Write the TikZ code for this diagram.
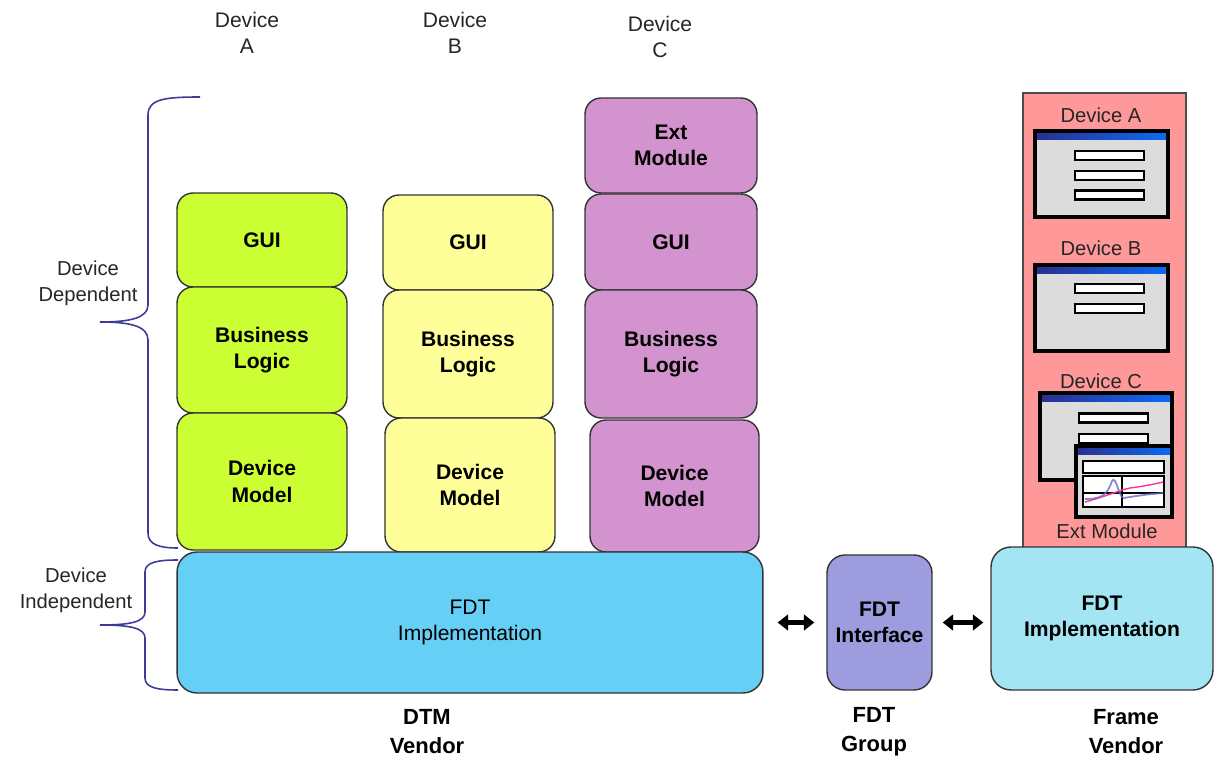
\documentclass[tikz,border=0pt]{standalone}
\usepackage{fontspec}
\setmainfont{Liberation Sans}
\usetikzlibrary{arrows.meta}
\definecolor{guigreen}{HTML}{CCFF33}
\definecolor{guiyellow}{HTML}{FFFF99}
\definecolor{extpurple}{HTML}{D393CE}
\definecolor{dtmblue}{HTML}{66CFF5}
\definecolor{ifacelilac}{HTML}{9C9CDE}
\definecolor{frameblue}{HTML}{A3E5F3}
\definecolor{framered}{HTML}{FF9999}
\definecolor{wingray}{HTML}{DCDCDC}
\definecolor{titlenavy}{HTML}{2B2F8F}
\definecolor{titleblue}{HTML}{0A6CF5}
\definecolor{bracecol}{HTML}{3C3C96}
\definecolor{plotpink}{HTML}{FF3399}
\definecolor{plotblue}{HTML}{6A6AC0}
\tikzset{
every picture/.style={line width=0.8pt, x=0.02cm, y=-0.02cm},
%%%%%%%%%%  Node styles
layer/.style={draw=black!80, rounded corners=0.32cm, align=center,
              inner sep=2pt, font=\bfseries\fontsize{12}{15}\selectfont},
base/.style={layer, rounded corners=0.4cm},
caption/.style={align=center, text=black!85,
                font=\fontsize{12}{14.8}\selectfont},
sidecaption/.style={align=center, text=black!85,
                    font=\fontsize{11.5}{14.8}\selectfont},
vendor/.style={align=center, font=\bfseries\fontsize{12.5}{16.5}\selectfont},
winlabel/.style={text=black!85, inner sep=1pt,
                 font=\fontsize{11.5}{13}\selectfont},
%%%%%%% little GUI windows
win/.style={draw=black, line width=2pt, fill=wingray, inner sep=0pt,
            path picture={\shade[left color=titlenavy, right color=titleblue]
              (path picture bounding box.north west) rectangle
              ([yshift=-0.16cm]path picture bounding box.north east);}},
field/.style={draw=black, line width=1.3pt, fill=white, inner sep=0pt,
              minimum width=1.38cm, minimum height=0.18cm},
%%%%%%% line styles
brace/.style={draw=bracecol, line width=0.9pt},
duo/.style={{Triangle[length=6pt,width=9pt]}-{Triangle[length=6pt,width=9pt]},
            line width=2.4pt}
}

\begin{document}
\begin{tikzpicture}
\useasboundingbox (0,0) rectangle (1214,763);

% braces
\draw[brace] (200,97) .. controls (165,97) and (148,99) .. (148,115)
  -- (148,305) .. controls (148,318) and (130,322) .. (100,322)
  .. controls (130,322) and (148,326) .. (148,340)
  -- (148,533) .. controls (148,545) and (160,548) .. (178,548);
\draw[brace] (178,560) .. controls (158,560) and (145,562) .. (145,572)
  -- (145,612) .. controls (145,622) and (130,625) .. (100,625)
  .. controls (130,625) and (145,628) .. (145,638)
  -- (145,678) .. controls (145,688) and (158,690) .. (178,690);
\node[sidecaption] (dep) at (88,283) {Device\\Dependent};
\node[sidecaption] (indep) at (76,590) {Device\\Independent};

% device columns
\node[caption] (topA) at (247,33) {Device\\A};
\node[caption] (topB) at (455,33) {Device\\B};
\node[caption] (topC) at (660,37) {Device\\C};

\node[layer, fill=guigreen, minimum width=3.4cm, minimum height=1.88cm]
  (guiA) at (262,240) {GUI};
\node[layer, fill=guigreen, minimum width=3.4cm, minimum height=2.52cm]
  (blA) at (262,350) {Business\\Logic};
\node[layer, fill=guigreen, minimum width=3.4cm, minimum height=2.74cm]
  (dmA) at (262,481.5) {Device\\Model};

\node[layer, fill=guiyellow, minimum width=3.4cm, minimum height=1.9cm]
  (guiB) at (468,242.5) {GUI};
\node[layer, fill=guiyellow, minimum width=3.4cm, minimum height=2.56cm]
  (blB) at (468,354) {Business\\Logic};
\node[layer, fill=guiyellow, minimum width=3.4cm, minimum height=2.68cm]
  (dmB) at (470,485) {Device\\Model};

\node[layer, fill=extpurple, minimum width=3.44cm, minimum height=1.9cm]
  (extC) at (671,145.5) {Ext\\Module};
\node[layer, fill=extpurple, minimum width=3.44cm, minimum height=1.92cm]
  (guiC) at (671,242) {GUI};
\node[layer, fill=extpurple, minimum width=3.44cm, minimum height=2.56cm]
  (blC) at (671,354) {Business\\Logic};
\node[layer, fill=extpurple, minimum width=3.38cm, minimum height=2.64cm]
  (dmC) at (674.5,486) {Device\\Model};

% FDT layer
\node[base, fill=dtmblue, minimum width=11.72cm, minimum height=2.82cm,
      font=\fontsize{12}{15}\selectfont] (dtm) at (470,622.5)
  {FDT\\Implementation};
\node[base, fill=ifacelilac, rounded corners=0.36cm, minimum width=2.1cm,
      minimum height=2.7cm] (iface) at (879.5,622.5) {FDT\\Interface};

% frame application
\node[draw=black!70, fill=framered, minimum width=3.26cm,
      minimum height=9.12cm] (panel) at (1104.5,321) {};
\node[winlabel] (lblA) at (1101,115) {Device A};
\node[win, minimum width=2.66cm, minimum height=1.72cm] (winA) at (1101.5,174) {};
\node[field] (fA1) at (1109.5,155.5) {};
\node[field] (fA2) at (1109.5,175.5) {};
\node[field] (fA3) at (1109.5,195) {};

\node[winlabel] (lblB) at (1101,248) {Device B};
\node[win, minimum width=2.66cm, minimum height=1.72cm] (winB) at (1101.5,308) {};
\node[field] (fB1) at (1109.5,288.5) {};
\node[field] (fB2) at (1109.5,308.5) {};

\node[winlabel] (lblC) at (1101,381) {Device C};
\node[win, minimum width=2.64cm, minimum height=1.74cm] (winC) at (1106,436.5) {};
\node[field] (fC1) at (1113.5,418) {};
\node[field] (fC2) at (1113.5,438.5) {};

\node[win, minimum width=1.92cm, minimum height=1.42cm] (winExt) at (1124,481.5) {};
\node[field, minimum width=1.62cm, minimum height=0.24cm] (fExt) at (1123.5,467) {};
\draw[fill=white, line width=1.3pt] (1083,476) rectangle (1164,507);
\draw[line width=1.3pt] (1122,476) -- (1122,507) (1083,493) -- (1164,493);
\draw[plotpink, line width=0.8pt] (1085,502) .. controls (1110,495) and (1120,490) .. (1130,488)
  .. controls (1145,486) and (1155,484) .. (1163,482);
\draw[plotblue, opacity=0.8, line width=1pt] (1085,499) .. controls (1100,499) and (1107,496) .. (1112,481)
  .. controls (1116,474) and (1119,499) .. (1124,498)
  .. controls (1135,496) and (1150,494) .. (1163,493);
\node[winlabel] (lblExt) at (1107,531) {Ext Module};

\node[base, fill=frameblue, minimum width=4.44cm, minimum height=2.86cm]
  (frameimpl) at (1102,618.5) {FDT\\Implementation};

% arrows
\draw[duo, shorten <=0.28cm, shorten >=0.24cm] (dtm.east) -- (dtm.east -| iface.west);
\draw[duo, shorten <=0.2cm, shorten >=0.14cm] (iface.east) -- (iface.east -| frameimpl.west);

% vendors
\node[vendor] (dtmv) at (427,732) {DTM\\Vendor};
\node[vendor] (fdtg) at (874,732) {FDT\\Group};
\node[vendor] (framev) at (1126,732) {Frame\\Vendor};
\end{tikzpicture}
\end{document}
